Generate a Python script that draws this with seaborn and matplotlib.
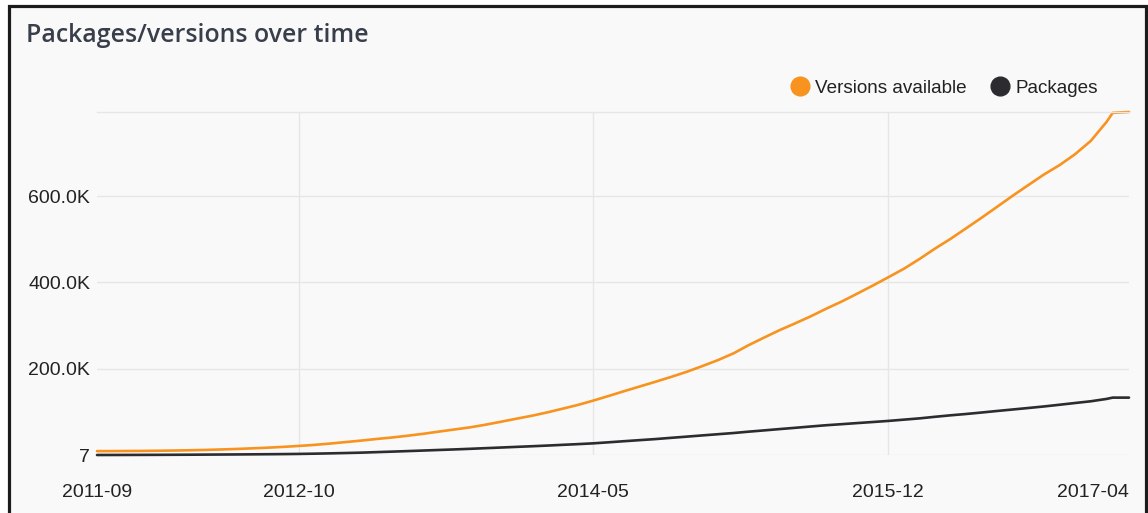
import numpy as np
import pandas as pd
import matplotlib
matplotlib.use("Agg")
import matplotlib.pyplot as plt
import matplotlib.dates as mdates
from matplotlib.lines import Line2D
from matplotlib.patches import Rectangle
import seaborn as sns

# Monthly snapshots from 2011-09 to 2017-02, plus the last two samples
dates = list(pd.date_range("2011-09-01", "2017-02-01", freq="MS")) + [
    pd.Timestamp("2017-02-13"), pd.Timestamp("2017-03-17")]

versions = [
    9000, 9100, 9300, 9500, 9900, 10400, 11000, 11800, 12800, 14000,
    15400, 17000, 18900, 21000, 23500, 26500, 30000, 33500, 37000, 40500,
    44500, 49000, 54000, 59000, 64000, 70000, 77000, 84000, 91000, 99000,
    107000, 116000, 126000, 137000, 148000, 159000, 170000, 181000, 193000, 206000,
    220000, 236000, 254000, 272000, 289000, 305000, 321000, 339000, 356000, 374000,
    393000, 412000, 432000, 455000, 478000, 501000, 525000, 550000, 575000, 601000,
    626000, 650000, 672000, 697000, 728000, 772000, 793000, 795000,
]

packages = [
    7, 80, 170, 280, 400, 550, 700, 900, 1100, 1300,
    1550, 1800, 2100, 2500, 3100, 3800, 4600, 5500, 6600, 7800,
    9000, 10300, 11600, 12900, 14300, 15800, 17300, 18800, 20300, 21900,
    23500, 25200, 27000, 29500, 32000, 34500, 37000, 39800, 42600, 45400,
    48200, 51000, 54000, 57000, 60000, 63000, 66000, 69000, 71500, 74000,
    76500, 79000, 82000, 85000, 88500, 92000, 95000, 98500, 102000, 105500,
    109000, 112500, 116500, 120500, 124500, 130000, 133000, 133000,
]

series_names = ["Versions available", "Packages"]
series_colors = ["#f7931e", "#2c2c30"]

y_ticks = [7, 200000, 400000, 600000]
y_tick_labels = ["7", "200.0K", "400.0K", "600.0K"]
x_tick_dates = ["2011-09-01", "2012-10-01", "2014-05-01", "2015-12-01", "2017-03-17"]
x_tick_labels = ["2011-09", "2012-10", "2014-05", "2015-12", "2017-04"]

df = pd.DataFrame({
    "date": dates * 2,
    "value": versions + packages,
    "series": [series_names[0]] * len(dates) + [series_names[1]] * len(dates),
})

sns.set_theme(style="white")
plt.rcParams["font.family"] = ["Liberation Sans", "DejaVu Sans"]

W, H = 1148, 513
fig = plt.figure(figsize=(W / 100, H / 100), dpi=100, facecolor="white")

# Card background with a dark frame on top, left and right
fig.patches.append(Rectangle((9 / W, -0.05), (1146 - 9) / W, 1.05 - 6 / H,
                             transform=fig.transFigure, facecolor="#f9f9f9",
                             edgecolor="#1c1c1c", linewidth=2.3, zorder=-10))

ax = fig.add_axes([97 / W, 1 - 455 / H, (1129 - 97) / W, (455 - 112) / H])
ax.set_zorder(1)
ax.set_facecolor("none")

sns.lineplot(data=df, x="date", y="value", hue="series",
             palette=dict(zip(series_names, series_colors)),
             hue_order=series_names[::-1], linewidth=1.9, legend=False,
             ax=ax, clip_on=False)

ax.set_xlim(min(dates), max(dates))
ax.set_ylim(min(y_ticks), max(versions))

ax.set_yticks(y_ticks)
ax.set_yticklabels(y_tick_labels)
ax.set_xticks([mdates.date2num(pd.Timestamp(d)) for d in x_tick_dates])
ax.set_xticklabels(x_tick_labels)
ax.set_xlabel("")
ax.set_ylabel("")

ax.tick_params(axis="y", length=0, pad=5, labelsize=14, labelcolor="#222222")
ax.tick_params(axis="x", length=0, pad=21, labelsize=14, labelcolor="#222222")
ax.get_xticklabels()[-1].set_horizontalalignment("right")

ax.grid(True, color="#e6e6e6", linewidth=1)
ax.set_axisbelow(True)
xgl = ax.xaxis.get_gridlines()
xgl[0].set_visible(False)
xgl[-1].set_visible(False)
for side in ["left", "right", "bottom"]:
    ax.spines[side].set_visible(False)
ax.spines["top"].set_color("#e6e6e6")
ax.spines["top"].set_linewidth(1)

fig.text(26 / W, 1 - 36 / H, "Packages/versions over time",
         fontsize=17.9, fontweight="semibold", color="#383e4a",
         va="center", ha="left", family=["Open Sans", "DejaVu Sans"])

handles = [Line2D([], [], linestyle="none", marker="o", markersize=13.5,
                  markerfacecolor=c, markeredgecolor=c) for c in series_colors]
fig.legend(handles, series_names, loc="center right", ncol=2, frameon=False,
           bbox_to_anchor=(1098 / W, 1 - 88 / H), fontsize=13.6,
           handlelength=1.0, handletextpad=0.3, columnspacing=1.27,
           borderpad=0, borderaxespad=0, labelcolor="#222222")

fig.savefig("out.png", dpi=100, facecolor="white")
